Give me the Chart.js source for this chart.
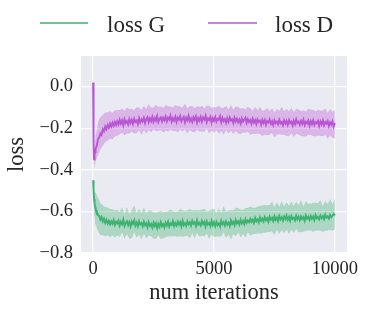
<!DOCTYPE html>
<html>
<head>
<meta charset="utf-8">
<script src="https://cdn.jsdelivr.net/npm/chart.js@4.4.1/dist/chart.umd.min.js"></script>
<style>
  html, body { margin: 0; padding: 0; background: #ffffff; }
  #wrap { width: 366px; height: 311px; }
</style>
</head>
<body>
<div id="wrap"><canvas id="c" width="366" height="311"></canvas></div>
<script>
// ---- data ----
const SERIES_LABELS = ['loss G', 'loss D'];
const X_TICKS = [0, 5000, 10000];
const Y_TICKS = [-0.8, -0.6, -0.4, -0.2, 0.0];
const X_TITLE = 'num iterations';
const Y_TITLE = 'loss';

// iterations of the mean lines
const LINE_ITERS = [0,20,40,60,80,
 100,150,200,250,300,350,400,450,500,550,600,650,700,750,800,850,900,950,1000,
 1050,1100,1150,1200,1250,1300,1350,1400,1450,1500,
 1550,1600,1650,1700,1750,1800,1850,1900,1950,2000,
 2050,2100,2150,2200,2250,2300,2350,2400,2450,2500,
 2550,2600,2650,2700,2750,2800,2850,2900,2950,3000,
 3050,3100,3150,3200,3250,3300,3350,3400,3450,3500,
 3550,3600,3650,3700,3750,3800,3850,3900,3950,4000,
 4050,4100,4150,4200,4250,4300,4350,4400,4450,4500,
 4550,4600,4650,4700,4750,4800,4850,4900,4950,5000,
 5050,5100,5150,5200,5250,5300,5350,5400,5450,5500,
 5550,5600,5650,5700,5750,5800,5850,5900,5950,6000,
 6050,6100,6150,6200,6250,6300,6350,6400,6450,6500,
 6550,6600,6650,6700,6750,6800,6850,6900,6950,7000,
 7050,7100,7150,7200,7250,7300,7350,7400,7450,7500,
 7550,7600,7650,7700,7750,7800,7850,7900,7950,8000,
 8050,8100,8150,8200,8250,8300,8350,8400,8450,8500,
 8550,8600,8650,8700,8750,8800,8850,8900,8950,9000,
 9050,9100,9150,9200,9250,9300,9350,9400,9450,9500,
 9550,9600,9650,9700,9750,9800,9850,9900,9950,10000];

const G_LINE = [-0.45,-0.50,-0.54,-0.56,-0.575,
 -0.585,-0.60,-0.618,-0.622,-0.640,-0.628,-0.648,-0.635,-0.655,-0.640,-0.658,-0.645,-0.662,-0.648,-0.660,-0.643,-0.665,-0.650,-0.658,
 -0.645,-0.668,-0.650,-0.662,-0.641,-0.670,-0.655,-0.647,-0.666,-0.652,
 -0.672,-0.649,-0.660,-0.643,-0.668,-0.654,-0.671,-0.648,-0.663,-0.656,
 -0.672,-0.650,-0.667,-0.658,-0.676,-0.652,-0.669,-0.660,-0.678,-0.655,
 -0.671,-0.657,-0.680,-0.660,-0.674,-0.652,-0.670,-0.661,-0.677,-0.655,
 -0.668,-0.650,-0.673,-0.658,-0.665,-0.647,-0.671,-0.656,-0.668,-0.649,
 -0.664,-0.652,-0.672,-0.645,-0.666,-0.657,-0.669,-0.648,-0.662,-0.653,
 -0.668,-0.645,-0.660,-0.652,-0.670,-0.643,-0.663,-0.655,-0.667,-0.646,
 -0.661,-0.650,-0.672,-0.648,-0.664,-0.655,-0.670,-0.645,-0.666,-0.652,
 -0.671,-0.650,-0.666,-0.657,-0.673,-0.645,-0.662,-0.652,-0.668,-0.648,
 -0.664,-0.655,-0.670,-0.643,-0.660,-0.650,-0.666,-0.641,-0.658,-0.648,
 -0.663,-0.640,-0.657,-0.646,-0.661,-0.638,-0.655,-0.644,-0.652,-0.636,
 -0.650,-0.640,-0.655,-0.632,-0.648,-0.638,-0.652,-0.630,-0.645,-0.635,
 -0.648,-0.628,-0.642,-0.633,-0.650,-0.626,-0.640,-0.631,-0.646,-0.624,
 -0.641,-0.630,-0.647,-0.622,-0.638,-0.628,-0.644,-0.625,-0.637,-0.620,
 -0.640,-0.627,-0.645,-0.623,-0.636,-0.630,-0.643,-0.621,-0.638,-0.626,
 -0.642,-0.624,-0.637,-0.628,-0.645,-0.620,-0.635,-0.626,-0.640,-0.622,
 -0.636,-0.625,-0.641,-0.618,-0.633,-0.627,-0.639,-0.620,-0.632,-0.623,
 -0.638,-0.616,-0.630,-0.624,-0.635,-0.617,-0.628,-0.621,-0.612,-0.620];

const D_LINE = [0.02,-0.29,-0.35,-0.33,-0.315,
 -0.30,-0.285,-0.255,-0.245,-0.225,-0.232,-0.205,-0.215,-0.192,-0.205,-0.185,-0.198,-0.178,-0.192,-0.174,-0.188,-0.170,-0.185,-0.168,
 -0.182,-0.160,-0.178,-0.163,-0.186,-0.158,-0.175,-0.166,-0.181,-0.157,
 -0.174,-0.160,-0.179,-0.155,-0.170,-0.163,-0.180,-0.152,-0.172,-0.158,
 -0.168,-0.150,-0.175,-0.156,-0.147,-0.171,-0.153,-0.166,-0.145,-0.169,
 -0.151,-0.164,-0.142,-0.170,-0.155,-0.148,-0.167,-0.150,-0.162,-0.144,
 -0.166,-0.149,-0.158,-0.140,-0.168,-0.152,-0.163,-0.145,-0.170,-0.150,
 -0.159,-0.143,-0.167,-0.155,-0.146,-0.171,-0.150,-0.162,-0.141,-0.166,
 -0.153,-0.169,-0.147,-0.160,-0.144,-0.172,-0.151,-0.164,-0.146,-0.168,
 -0.149,-0.158,-0.140,-0.170,-0.153,-0.161,-0.146,-0.173,-0.152,-0.165,
 -0.147,-0.168,-0.154,-0.160,-0.143,-0.171,-0.150,-0.166,-0.156,-0.174,
 -0.152,-0.169,-0.148,-0.163,-0.157,-0.175,-0.150,-0.168,-0.155,-0.172,
 -0.158,-0.176,-0.153,-0.169,-0.160,-0.150,-0.174,-0.157,-0.171,-0.161,
 -0.178,-0.155,-0.173,-0.162,-0.180,-0.158,-0.170,-0.164,-0.182,-0.159,
 -0.175,-0.161,-0.183,-0.166,-0.172,-0.158,-0.179,-0.167,-0.185,-0.162,
 -0.176,-0.168,-0.181,-0.160,-0.177,-0.170,-0.186,-0.163,-0.178,-0.166,
 -0.184,-0.161,-0.176,-0.169,-0.187,-0.164,-0.180,-0.158,-0.175,-0.168,
 -0.183,-0.165,-0.179,-0.160,-0.185,-0.170,-0.177,-0.163,-0.188,-0.167,
 -0.180,-0.162,-0.184,-0.171,-0.176,-0.165,-0.189,-0.168,-0.181,-0.163,
 -0.186,-0.170,-0.178,-0.166,-0.190,-0.172,-0.183,-0.168,-0.192,-0.176];

// iterations of the shaded bands
const BAND_ITERS = [0,20,40,60,80,100,150,200,250,300,400,500,600,700,800,900,1000,
 1100,1200,1300,1400,1500,1600,1700,1800,1900,2000,
 2100,2200,2300,2400,2500,2600,2700,2800,2900,3000,
 3100,3200,3300,3400,3500,3600,3700,3800,3900,4000,
 4100,4200,4300,4400,4500,4600,4700,4800,4900,5000,
 5100,5200,5300,5400,5500,5600,5700,5800,5900,6000,
 6100,6200,6300,6400,6500,6600,6700,6800,6900,7000,
 7100,7200,7300,7400,7500,7600,7700,7800,7900,8000,
 8100,8200,8300,8400,8500,8600,8700,8800,8900,9000,
 9100,9200,9300,9400,9500,9600,9700,9800,9900,10000];

const G_BAND_MID = [-0.45,-0.50,-0.54,-0.56,-0.575,-0.585,-0.60,-0.615,-0.625,-0.635,-0.64,-0.648,-0.645,-0.655,-0.650,-0.660,-0.652,
 -0.660,-0.648,-0.662,-0.650,-0.666,-0.654,-0.645,-0.660,-0.652,-0.664,
 -0.650,-0.661,-0.655,-0.668,-0.657,-0.670,-0.658,-0.665,-0.653,-0.667,
 -0.656,-0.662,-0.650,-0.664,-0.655,-0.660,-0.648,-0.661,-0.652,-0.658,
 -0.646,-0.660,-0.650,-0.657,-0.645,-0.659,-0.651,-0.662,-0.649,-0.656,
 -0.663,-0.650,-0.658,-0.646,-0.660,-0.652,-0.662,-0.648,-0.655,-0.644,
 -0.657,-0.647,-0.655,-0.642,-0.652,-0.640,-0.650,-0.638,-0.646,-0.634,
 -0.643,-0.632,-0.641,-0.630,-0.639,-0.628,-0.640,-0.631,-0.637,-0.626,
 -0.638,-0.629,-0.636,-0.625,-0.635,-0.627,-0.637,-0.624,-0.633,-0.626,
 -0.635,-0.622,-0.632,-0.625,-0.634,-0.621,-0.630,-0.619,-0.628,-0.615];

const G_BAND_UP = [0.005,0.03,0.05,0.06,0.07,0.075,0.08,0.08,0.078,0.075,0.07,0.068,0.065,0.066,0.062,0.064,0.06,
 0.058,0.068,0.050,0.071,0.054,0.061,0.074,0.052,0.066,0.055,
 0.070,0.051,0.060,0.072,0.053,0.064,0.056,0.069,0.049,0.065,
 0.057,0.071,0.052,0.062,0.055,0.073,0.053,0.064,0.058,0.070,
 0.051,0.066,0.057,0.062,0.054,0.072,0.052,0.065,0.058,0.069,
 0.055,0.064,0.053,0.071,0.059,0.056,0.068,0.054,0.073,0.060,
 0.065,0.056,0.070,0.059,0.075,0.057,0.068,0.061,0.072,0.063,
 0.074,0.061,0.070,0.077,0.059,0.072,0.064,0.079,0.062,0.071,
 0.065,0.077,0.062,0.073,0.066,0.080,0.060,0.074,0.068,0.064,
 0.076,0.063,0.072,0.079,0.061,0.071,0.066,0.077,0.064,0.075];

const G_BAND_DOWN = [0.005,0.03,0.05,0.06,0.07,0.075,0.08,0.08,0.08,0.078,0.075,0.072,0.07,0.068,0.066,0.065,0.064,
 0.063,0.054,0.071,0.058,0.066,0.074,0.055,0.067,0.059,0.070,
 0.057,0.069,0.061,0.053,0.073,0.063,0.058,0.068,0.076,0.057,
 0.065,0.059,0.070,0.055,0.067,0.060,0.074,0.058,0.064,0.071,
 0.059,0.068,0.054,0.065,0.072,0.060,0.056,0.070,0.062,0.067,
 0.058,0.071,0.063,0.055,0.068,0.060,0.074,0.059,0.065,0.057,
 0.068,0.061,0.072,0.058,0.065,0.070,0.059,0.067,0.061,0.071,
 0.060,0.068,0.058,0.065,0.073,0.061,0.069,0.059,0.067,0.062,
 0.071,0.060,0.068,0.058,0.065,0.072,0.061,0.069,0.059,0.066,
 0.063,0.071,0.060,0.068,0.064,0.073,0.061,0.069,0.065,0.072];

const D_BAND_MID = [0.02,-0.29,-0.35,-0.33,-0.31,-0.295,-0.275,-0.25,-0.235,-0.225,-0.21,-0.195,-0.19,-0.182,-0.188,-0.175,-0.172,
 -0.168,-0.172,-0.166,-0.170,-0.162,-0.168,-0.160,-0.166,-0.158,-0.163,
 -0.155,-0.161,-0.154,-0.152,-0.158,-0.153,-0.150,-0.157,-0.151,-0.156,
 -0.150,-0.157,-0.152,-0.156,-0.151,-0.158,-0.153,-0.150,-0.157,-0.154,
 -0.158,-0.152,-0.156,-0.153,-0.160,-0.155,-0.152,-0.158,-0.154,-0.160,
 -0.155,-0.159,-0.154,-0.160,-0.157,-0.163,-0.157,-0.161,-0.156,-0.163,
 -0.160,-0.165,-0.159,-0.164,-0.162,-0.168,-0.163,-0.170,-0.165,-0.168,
 -0.172,-0.167,-0.171,-0.169,-0.175,-0.168,-0.173,-0.166,-0.172,-0.170,
 -0.175,-0.169,-0.173,-0.167,-0.175,-0.171,-0.177,-0.170,-0.174,-0.168,
 -0.176,-0.172,-0.178,-0.171,-0.176,-0.174,-0.180,-0.173,-0.179,-0.178];

const D_BAND_UP = [0.005,0.03,0.04,0.05,0.055,0.06,0.065,0.075,0.08,0.078,0.075,0.07,0.066,0.064,0.062,0.06,0.06,
 0.056,0.066,0.050,0.069,0.053,0.061,0.048,0.067,0.057,0.051,
 0.063,0.053,0.070,0.050,0.059,0.066,0.052,0.062,0.048,0.068,
 0.055,0.061,0.050,0.067,0.056,0.063,0.051,0.069,0.054,0.059,
 0.065,0.049,0.062,0.055,0.068,0.051,0.060,0.066,0.052,0.062,
 0.056,0.067,0.050,0.059,0.064,0.053,0.069,0.051,0.060,0.065,
 0.055,0.062,0.049,0.067,0.058,0.053,0.065,0.056,0.068,0.052,
 0.060,0.064,0.054,0.066,0.050,0.062,0.057,0.069,0.053,0.063,
 0.056,0.067,0.051,0.060,0.065,0.054,0.062,0.052,0.068,0.058,
 0.063,0.053,0.066,0.056,0.061,0.069,0.054,0.064,0.058,0.066];

const D_BAND_DOWN = [0.005,0.03,0.04,0.05,0.06,0.065,0.07,0.08,0.08,0.078,0.075,0.072,0.07,0.068,0.066,0.065,0.064,
 0.061,0.051,0.068,0.055,0.063,0.049,0.066,0.058,0.052,0.069,
 0.054,0.064,0.056,0.067,0.050,0.060,0.063,0.053,0.070,0.055,
 0.066,0.052,0.061,0.056,0.068,0.050,0.063,0.058,0.067,0.053,
 0.060,0.069,0.052,0.064,0.056,0.062,0.051,0.068,0.057,0.063,
 0.054,0.066,0.059,0.070,0.052,0.061,0.055,0.067,0.058,0.064,
 0.068,0.056,0.063,0.053,0.071,0.059,0.065,0.055,0.064,0.069,
 0.058,0.067,0.061,0.054,0.070,0.062,0.056,0.066,0.059,0.068,
 0.064,0.055,0.069,0.060,0.057,0.067,0.062,0.070,0.056,0.065,
 0.061,0.068,0.057,0.066,0.063,0.059,0.071,0.062,0.067,0.073];

// ---- styling ----
const G_COLOR = 'rgb(60,179,113)';
const G_FILL = 'rgba(60,179,113,0.35)';
const D_COLOR = 'rgb(186,85,211)';
const D_FILL = 'rgba(186,85,211,0.35)';
const TEXT_COLOR = '#262626';
const FONT = "'Liberation Serif', 'Times New Roman', serif";

const pts = (xs, arr) => xs.map((x, i) => ({ x: x, y: arr[i] }));
const band = (mid, spread, sign) => BAND_ITERS.map((x, i) => ({ x: x, y: mid[i] + sign * spread[i] }));

const bgPlugin = {
  id: 'bg',
  beforeDraw(chart) {
    const { ctx, chartArea: a } = chart;
    ctx.save();
    ctx.fillStyle = '#EAEAF2';
    ctx.fillRect(a.left, a.top, a.right - a.left, a.bottom - a.top);
    ctx.restore();
  }
};

const legendPlugin = {
  id: 'customLegend',
  afterDraw(chart) {
    const ctx = chart.ctx;
    const items = [
      { ds: chart.data.datasets[0], x0: 40, x1: 88, tx: 107 },
      { ds: chart.data.datasets[1], x0: 208, x1: 257, tx: 275 }
    ];
    ctx.save();
    ctx.font = "23px " + FONT;
    ctx.textBaseline = 'alphabetic';
    ctx.textAlign = 'left';
    items.forEach(it => {
      ctx.strokeStyle = it.ds.borderColor;
      ctx.lineWidth = 1.6;
      ctx.beginPath();
      ctx.moveTo(it.x0, 23);
      ctx.lineTo(it.x1, 23);
      ctx.stroke();
      ctx.fillStyle = TEXT_COLOR;
      ctx.fillText(it.ds.label, it.tx, 31.5);
    });
    ctx.restore();
  }
};

const fmt = (v) => {
  const s = Math.abs(v) < 1e-9 ? '0.0' : v.toFixed(1);
  return s.replace('-', '\u2212');
};

new Chart(document.getElementById('c'), {
  type: 'line',
  data: {
    datasets: [
      { label: SERIES_LABELS[0], data: pts(LINE_ITERS, G_LINE), borderColor: G_COLOR, borderWidth: 1.9, pointRadius: 0, fill: false, tension: 0 },
      { label: SERIES_LABELS[1], data: pts(LINE_ITERS, D_LINE), borderColor: D_COLOR, borderWidth: 1.9, pointRadius: 0, fill: false, tension: 0 },
      { label: 'D upper', data: band(D_BAND_MID, D_BAND_UP, 1), borderColor: 'transparent', backgroundColor: D_FILL, borderWidth: 0, pointRadius: 0, fill: '+1', tension: 0 },
      { label: 'D lower', data: band(D_BAND_MID, D_BAND_DOWN, -1), borderColor: 'transparent', borderWidth: 0, pointRadius: 0, fill: false, tension: 0 },
      { label: 'G upper', data: band(G_BAND_MID, G_BAND_UP, 1), borderColor: 'transparent', backgroundColor: G_FILL, borderWidth: 0, pointRadius: 0, fill: '+1', tension: 0 },
      { label: 'G lower', data: band(G_BAND_MID, G_BAND_DOWN, -1), borderColor: 'transparent', borderWidth: 0, pointRadius: 0, fill: false, tension: 0 }
    ]
  },
  options: {
    responsive: false,
    animation: false,
    devicePixelRatio: 1,
    layout: { padding: { top: 56, right: 19, left: 0, bottom: 0 } },
    plugins: { legend: { display: false }, tooltip: { enabled: false } },
    scales: {
      x: {
        type: 'linear',
        min: -500,
        max: 10500,
        afterBuildTicks: (s) => { s.ticks = X_TICKS.map(v => ({ value: v })); },
        afterFit: (s) => { s.height = 58; },
        ticks: { color: TEXT_COLOR, font: { family: FONT, size: 18.5 }, padding: 5, maxRotation: 0, callback: (v) => String(v) },
        grid: { color: '#ffffff', lineWidth: 1.2, drawTicks: false },
        border: { display: false },
        title: { display: true, text: X_TITLE, color: TEXT_COLOR, font: { family: FONT, size: 22.5 }, padding: { top: 4, bottom: 4 } }
      },
      y: {
        type: 'linear',
        min: -0.8,
        max: 0.147,
        afterBuildTicks: (s) => { s.ticks = Y_TICKS.map(v => ({ value: v })); },
        afterFit: (s) => { s.width = 81; },
        ticks: { color: TEXT_COLOR, font: { family: FONT, size: 18.5 }, padding: 8, callback: (v) => fmt(v) },
        grid: { color: '#ffffff', lineWidth: 1.2, drawTicks: false },
        border: { display: false },
        title: { display: true, text: Y_TITLE, color: TEXT_COLOR, font: { family: FONT, size: 22.5 }, padding: { top: 4, bottom: 4 } }
      }
    }
  },
  plugins: [bgPlugin, legendPlugin]
});
</script>
</body>
</html>
